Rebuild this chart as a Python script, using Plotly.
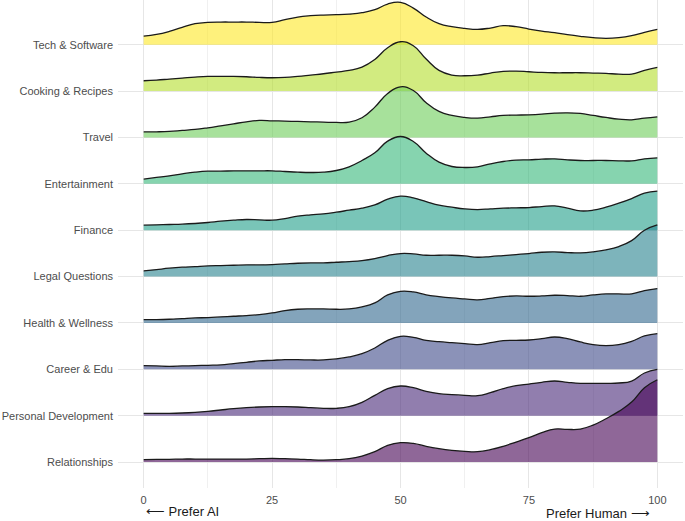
import plotly.graph_objects as go

# Shared x grid (preference score, 0 = prefer AI, 100 = prefer human)
x_vals = [0, 2.5, 5, 7.5, 10, 12.5, 15, 17.5, 20, 22.5, 25, 27.5, 30, 32.5, 35, 37.5, 40,
          42.5, 45, 47.5, 50, 52.5, 55, 57.5, 60, 62.5, 65, 67.5, 70, 72.5, 75, 77.5, 80,
          82.5, 85, 87.5, 90, 92.5, 95, 97.5, 100]

# Categories from bottom to top
categories = ["Relationships", "Personal Development", "Career & Edu", "Health & Wellness",
              "Legal Questions", "Finance", "Entertainment", "Travel", "Cooking & Recipes",
              "Tech & Software"]

# Ridge densities (arbitrary units; scaled to row height below)
relationships = [7, 8, 8, 9, 9, 9, 9, 9, 9, 10, 11, 10, 9, 7, 6, 7, 10, 18, 31, 50, 58, 56, 47, 40, 35, 32, 31, 37, 47, 60, 73, 88, 99, 98, 99, 111, 130, 152, 180, 223, 247]
personal_dev = [7, 7, 7, 8, 10, 13, 17, 21, 24, 26, 27, 27, 26, 24, 22, 22, 27, 40, 61, 81, 89, 84, 73, 66, 63, 61, 60, 69, 81, 90, 95, 100, 104, 100, 97, 97, 97, 98, 104, 128, 139]
career_edu = [11, 10, 9, 10, 11, 12, 13, 17, 21, 25, 27, 29, 29, 28, 28, 31, 37, 47, 64, 87, 99, 96, 87, 83, 80, 77, 74, 80, 86, 87, 88, 92, 97, 92, 82, 74, 71, 74, 84, 100, 107]
health = [10, 10, 11, 13, 15, 16, 18, 20, 22, 25, 30, 37, 41, 42, 42, 41, 42, 48, 60, 84, 95, 93, 84, 79, 75, 72, 69, 74, 79, 81, 80, 81, 83, 82, 80, 84, 87, 87, 87, 97, 103]
legal = [17, 21, 25, 28, 30, 32, 33, 34, 35, 35, 36, 38, 40, 41, 41, 43, 45, 48, 54, 63, 69, 68, 64, 64, 64, 62, 58, 60, 63, 66, 69, 73, 74, 72, 71, 74, 80, 90, 108, 139, 155]
finance = [15, 16, 17, 18, 20, 23, 27, 30, 32, 31, 30, 35, 42, 46, 49, 54, 60, 66, 76, 93, 102, 97, 86, 75, 69, 64, 62, 64, 66, 67, 68, 71, 73, 66, 58, 60, 69, 81, 95, 111, 117]
entertainment = [14, 19, 24, 30, 35, 38, 38, 39, 39, 39, 39, 37, 35, 34, 35, 40, 51, 70, 93, 128, 142, 127, 92, 65, 52, 49, 51, 60, 67, 71, 72, 74, 75, 72, 70, 70, 70, 69, 69, 75, 78]
travel = [17, 17, 18, 21, 24, 29, 35, 41, 47, 51, 50, 49, 48, 47, 46, 45, 46, 59, 91, 132, 152, 141, 104, 78, 66, 60, 58, 62, 66, 67, 68, 70, 73, 74, 72, 66, 60, 55, 53, 58, 62]
cooking = [31, 33, 36, 39, 42, 44, 44, 44, 43, 41, 40, 41, 44, 48, 52, 57, 62, 72, 95, 130, 148, 136, 96, 62, 48, 46, 48, 54, 59, 60, 58, 56, 55, 55, 55, 54, 53, 51, 51, 62, 71]
tech = [26, 31, 40, 52, 63, 67, 68, 68, 68, 67, 67, 75, 83, 87, 89, 90, 92, 96, 105, 122, 127, 110, 83, 63, 54, 49, 46, 50, 57, 54, 47, 41, 36, 30, 25, 21, 19, 21, 27, 37, 46]

series = [relationships, personal_dev, career_edu, health, legal, finance,
          entertainment, travel, cooking, tech]

ridge_scale = 1 / 139.2  # density units -> row heights

# viridis (bottom -> top)
colors = ["#440154", "#482878", "#3E4A89", "#31688E", "#26828E", "#1F9E89",
          "#35B779", "#6DCD59", "#B4DE2C", "#FDE725"]
alpha = 0.6

def rgba(h, a):
    h = h.lstrip("#")
    r, g, b = int(h[0:2], 16), int(h[2:4], 16), int(h[4:6], 16)
    return f"rgba({r},{g},{b},{a})"

fig = go.Figure()

# draw top rows first so lower ridges sit on top
for i in reversed(range(len(categories))):
    vals = series[i]
    fig.add_trace(go.Scatter(
        x=x_vals, y=[i] * len(x_vals), mode="lines",
        line=dict(width=0, color="rgba(0,0,0,0)"),
        hoverinfo="skip", showlegend=False))
    fig.add_trace(go.Scatter(
        x=x_vals, y=[i + v * ridge_scale for v in vals], mode="lines",
        line=dict(color="#1a1a1a", width=1.3, shape="spline", smoothing=1.3),
        fill="tonexty", fillcolor=rgba(colors[i], alpha),
        name=categories[i], showlegend=False))

font_family = "Liberation Sans, Arial, Helvetica, sans-serif"

fig.update_layout(
    width=685, height=521,
    margin=dict(l=118, r=2, t=0, b=33),
    plot_bgcolor="white", paper_bgcolor="white",
    font=dict(family=font_family, color="#4d4d4d"),
    xaxis=dict(
        range=[-5, 105], tickvals=[0, 25, 50, 75, 100],
        ticktext=["0", "25", "50", "75", "100"],
        showgrid=True, gridcolor="#e6e6e6", gridwidth=1,
        zeroline=False, showline=False, ticks="",
        tickfont=dict(size=11, color="#4d4d4d"),
        ticklabelstandoff=4,
        minor=dict(tickvals=[12.5, 37.5, 62.5, 87.5], showgrid=True,
                   gridcolor="#f0f0f0", gridwidth=0.8),
    ),
    yaxis=dict(
        range=[-0.56, 9.964], tickvals=list(range(len(categories))),
        ticktext=categories,
        showgrid=True, gridcolor="#e6e6e6", gridwidth=1,
        zeroline=False, showline=False, ticks="",
        tickfont=dict(size=11, color="#4d4d4d"),
        ticklabelstandoff=4,
    ),
    annotations=[
        dict(text="⟵ Prefer AI", x=0, xref="x", xanchor="left",
             y=-0.049, yref="paper", yanchor="middle", showarrow=False,
             font=dict(size=13, color="#1a1a1a", family=font_family)),
        dict(text="Prefer Human ⟶", x=99, xref="x", xanchor="right",
             y=-0.053, yref="paper", yanchor="middle", showarrow=False,
             font=dict(size=13, color="#1a1a1a", family=font_family)),
    ],
)

fig.write_html("out.html")
